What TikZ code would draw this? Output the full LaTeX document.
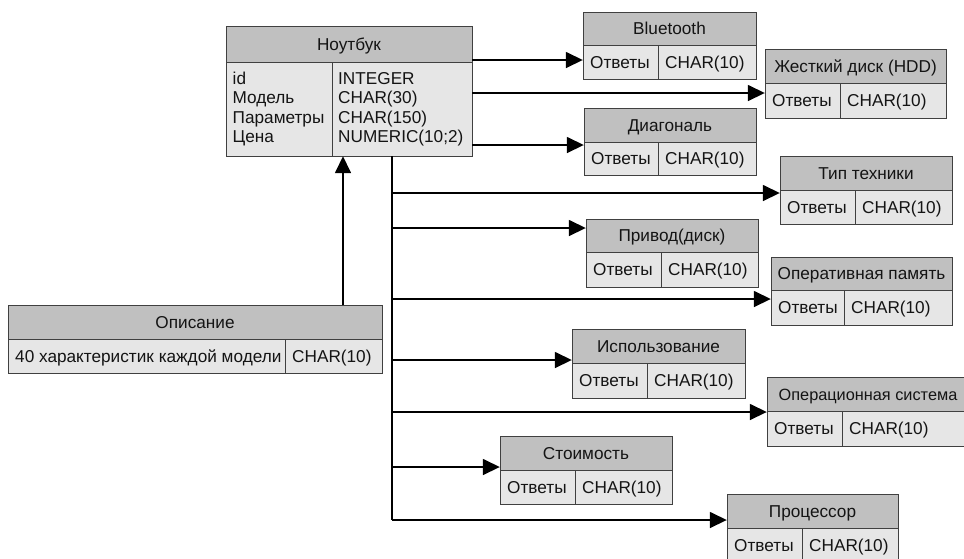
\documentclass[tikz,border=0pt]{standalone}
\usepackage{fontspec}
\setmainfont{Liberation Sans}
\usetikzlibrary{arrows.meta,fit}
\definecolor{hdr}{HTML}{C0C0C0}
\definecolor{bdy}{HTML}{E6E6E6}
\definecolor{edge}{HTML}{404040}
\definecolor{ink}{HTML}{141414}
\tikzset{
  bline/.style={draw=edge, line width=0.9pt},
  txt/.style={font=\fontsize{17.2}{19.3}\selectfont, text=ink, inner sep=0pt, text height=12.3pt, text depth=0pt},
  arr/.style={line width=1.6pt, -{Triangle[length=17pt,width=16pt]}},
  trunkline/.style={line width=1.6pt},
  tbody/.style={fill=bdy, inner sep=0pt},
}
\newcommand\erbox[8]{%
  \coordinate (#1-nw) at (#2);
  \coordinate (#1-se) at (#3);
  \node[tbody, fit=(#1-nw)(#1-se)] (#1) {};
  \fill[hdr] (#1-nw) rectangle (#1-se |- 0,#4);
  \draw[bline] (#1-nw |- 0,#4) -- (#1-se |- 0,#4);
  \draw[bline] (#5,0 |- 0,#4) -- (#5,0 |- #1-se);
  \draw[bline] (#1-nw) rectangle (#1-se);
  \path (#1-nw) -- (#1-se |- 0,#4) node[midway, txt] (#1-title) {#6};
  \path (#1-nw |- 0,#4) -- (#1-nw |- #1-se) node[midway, txt, anchor=west, xshift=7pt] (#1-c1) {#7};
  \path (#5,0 |- 0,#4) -- (#5,0 |- #1-se) node[midway, txt, anchor=west, xshift=7pt] (#1-c2) {#8};
}
\begin{document}
\begin{tikzpicture}[x=1pt, y=-1pt]
\fill[white] (0,0) rectangle (964,558);
\useasboundingbox (0,0) rectangle (964,558);

% main table
\coordinate (m-nw) at (226,26);
\coordinate (m-se) at (472,156);
\node[tbody, fit=(m-nw)(m-se)] (main) {};
\fill[hdr] (m-nw) rectangle (m-se |- 0,62);
\draw[bline] (m-nw |- 0,62) -- (m-se |- 0,62);
\draw[bline] (332,62) -- (332,156);
\draw[bline] (m-nw) rectangle (m-se);
\path (m-nw) -- (m-se |- 0,62) node[midway, txt] (m-title) {Ноутбук};
\node[txt, anchor=west] (m-a1) at (232.5,78.3) {id};
\node[txt, anchor=west] (m-a2) at (232.5,97.6) {Модель};
\node[txt, anchor=west] (m-a3) at (232.5,116.9) {Параметры};
\node[txt, anchor=west] (m-a4) at (232.5,136.2) {Цена};
\node[txt, anchor=west] (m-b1) at (338,78.3) {INTEGER};
\node[txt, anchor=west] (m-b2) at (338,97.6) {CHAR(30)};
\node[txt, anchor=west] (m-b3) at (338,116.9) {CHAR(150)};
\node[txt, anchor=west] (m-b4) at (338,136.2) {NUMERIC(10;2)};

\erbox{bt}{583,12}{756,79}{45}{658}{Bluetooth}{Ответы}{CHAR(10)}
\erbox{hdd}{765,49}{946,118}{83}{840}{Жесткий диск (HDD)}{Ответы}{CHAR(10)}
\erbox{diag}{584,108}{756,175}{142}{658}{Диагональ}{Ответы}{CHAR(10)}
\erbox{tt}{780,156}{952,224}{190}{855}{Тип техники}{Ответы}{CHAR(10)}
\erbox{priv}{586,219}{758,287}{252}{661}{Привод(диск)}{Ответы}{CHAR(10)}
\erbox{ram}{771,257}{952,325}{290}{844}{Оперативная память}{Ответы}{CHAR(10)}
\erbox{use}{572,329}{745,398}{363}{647}{Использование}{Ответы}{CHAR(10)}
\erbox{os}{767,377}{969,446}{411}{842}{\fontsize{16.3}{19}\selectfont Операционная система}{Ответы}{CHAR(10)}
\erbox{cost}{500,436}{672,504}{470}{575}{Стоимость}{Ответы}{CHAR(10)}
\erbox{cpu}{727,494}{898,563}{528}{802}{Процессор}{Ответы}{CHAR(10)}
\erbox{opis}{8,305}{382,373}{339}{285}{Описание}{40 характеристик каждой модели}{CHAR(10)}

% connectors from main table
\draw[arr] (main.east |- 0,60) -- (bt.west |- 0,60);
\draw[arr] (main.east |- 0,93) -- (hdd.west |- 0,93);
\draw[arr] (main.east |- 0,145) -- (diag.west |- 0,145);

\coordinate (tr) at (392,0);
\draw[trunkline] (main.south -| tr) -- (tr |- 0,520);
\draw[arr] (tr |- 0,193) -- (tt.west |- 0,193);
\draw[arr] (tr |- 0,228) -- (priv.west |- 0,228);
\draw[arr] (tr |- 0,299) -- (ram.west |- 0,299);
\draw[arr] (tr |- 0,360) -- (use.west |- 0,360);
\draw[arr] (tr |- 0,412) -- (os.west |- 0,412);
\draw[arr] (tr |- 0,467) -- (cost.west |- 0,467);
\draw[arr] (tr |- 0,520) -- (cpu.west |- 0,520);

\draw[arr] (opis.north -| 343,0) -- (main.south -| 343,0);
\end{tikzpicture}
\end{document}
